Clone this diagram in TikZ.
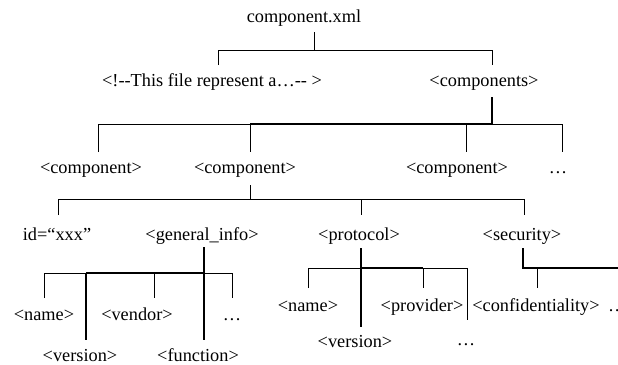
\documentclass[tikz,border=0pt]{standalone}
\usepackage{fontspec}
\setmainfont{Liberation Serif}
\begin{document}
\begin{tikzpicture}[x=1pt,y=-1pt,
  lbl/.style={anchor=base, inner sep=0pt, font=\fontsize{18.3}{20}\selectfont},
  ln/.style={line width=0.9pt},
  md/.style={line width=1.3pt},
  tk/.style={line width=1.9pt}]
\useasboundingbox (0,0) rectangle (618,364);
% ---- texts
\node[lbl] (root) at (304,23) {component.xml};
\node[lbl] (cm) at (212,86) {<!-\kern0pt-This file represent a…-\kern0pt- >};
\node[lbl] (cs) at (484,86) {<components>};
\node[lbl] (k1) at (91,173) {<component>};
\node[lbl] (k2) at (245,173) {<component>};
\node[lbl] (k3) at (457,173) {<component>};
\node[lbl] (k4) at (558,173) {…};
\node[lbl] (id) at (57,240) {id=“xxx”};
\node[lbl] (gi) at (202,240) {<general\_info>};
\node[lbl] (pr) at (359,240) {<protocol>};
\node[lbl] (se) at (522,240) {<security>};
\node[lbl] (gname) at (44,320) {<name>};
\node[lbl] (gvendor) at (137,320) {<vendor>};
\node[lbl] (gdots) at (232,320) {…};
\node[lbl] (gversion) at (80,361) {<version>};
\node[lbl] (gfunc) at (198,361) {<function>};
\node[lbl] (pname) at (308,311) {<name>};
\node[lbl] (pprov) at (422,311) {<provider>};
\node[lbl] (pconf) at (536,311) {<confidentiality>};
\node[lbl,anchor=base west] (sdots) at (608,311) {…};
\node[lbl] (pversion) at (355,347) {<version>};
\node[lbl] (pdots) at (466,345) {…};
% ---- coordinates
\coordinate (rT) at (314,32); \coordinate (rJ) at (314,50);
\coordinate (rL) at (218,50); \coordinate (rR) at (492,50);
\coordinate (cmT) at (218,65); \coordinate (csT) at (492,65);
\coordinate (csB) at (492,97); \coordinate (csJ) at (492,124);
\coordinate (b1L) at (98,124); \coordinate (b1R) at (562,124);
\coordinate (k1T) at (98,152); \coordinate (k2J) at (250,124); \coordinate (k2T) at (250,152);
\coordinate (k3J) at (466,124); \coordinate (k3T) at (466,152); \coordinate (k4T) at (562,152);
\coordinate (c2B) at (250,185); \coordinate (c2J) at (250,199);
\coordinate (b2L) at (58,199); \coordinate (b2R) at (524,199);
\coordinate (idT) at (58,215); \coordinate (p2J) at (361,199); \coordinate (prT) at (361,215);
\coordinate (seT) at (524,215);
\coordinate (giB) at (204,247); \coordinate (giJ) at (204,273);
\coordinate (g1J) at (44,273); \coordinate (g1E) at (44,298);
\coordinate (g2J) at (86,273); \coordinate (g2E) at (86,340);
\coordinate (g3J) at (154,273); \coordinate (g3E) at (154,298);
\coordinate (g4E) at (204,340);
\coordinate (g5J) at (232,273); \coordinate (g5E) at (232,298);
\coordinate (prB) at (361,248); \coordinate (prJ) at (361,268);
\coordinate (p1J) at (308,268); \coordinate (p1E) at (308,288);
\coordinate (p2E) at (361,327);
\coordinate (p3J) at (423,268); \coordinate (p3E) at (423,288);
\coordinate (p4J) at (467,268); \coordinate (p4E) at (467,320);
\coordinate (seB) at (523,248); \coordinate (seJ) at (523,268);
\coordinate (seR) at (620,268);
\coordinate (s1J) at (537,268); \coordinate (s1E) at (537,288);
% ---- connectors
\draw[ln] (rT) -- (rJ);
\draw[ln] (cmT) -- (rL) -- (rR) -- (csT);
\draw[tk] (csB) -- (csJ) -- (k2J);
\draw[ln] (k1T) -- (b1L) -- (k2J);
\draw[ln] (csJ) -- (b1R) -- (k4T);
\draw[ln] (k2J) -- (k2T);
\draw[ln] (k3J) -- (k3T);
\draw[ln] (c2B) -- (c2J);
\draw[ln] (idT) -- (b2L) -- (b2R) -- (seT);
\draw[ln] (p2J) -- (prT);
\draw[tk] (giB) -- (giJ);
\draw[ln] (g1E) -- (g1J) -- (g2J);
\draw[tk] (g2J) -- (giJ);
\draw[ln] (giJ) -- (g5J) -- (g5E);
\draw[tk] (g2J) -- (g2E);
\draw[ln] (g3J) -- (g3E);
\draw[md] (giJ) -- (g4E);
\draw[md] (prB) -- (prJ);
\draw[ln] (p1E) -- (p1J) -- (prJ);
\draw[tk] (prJ) -- (p3J);
\draw[ln] (p3J) -- (p4J) -- (p4E);
\draw[ln] (p3J) -- (p3E);
\draw[md] (prJ) -- (p2E);
\draw[tk] (seB) -- (seJ) -- (seR);
\draw[ln] (s1J) -- (s1E);
\end{tikzpicture}
\end{document}
